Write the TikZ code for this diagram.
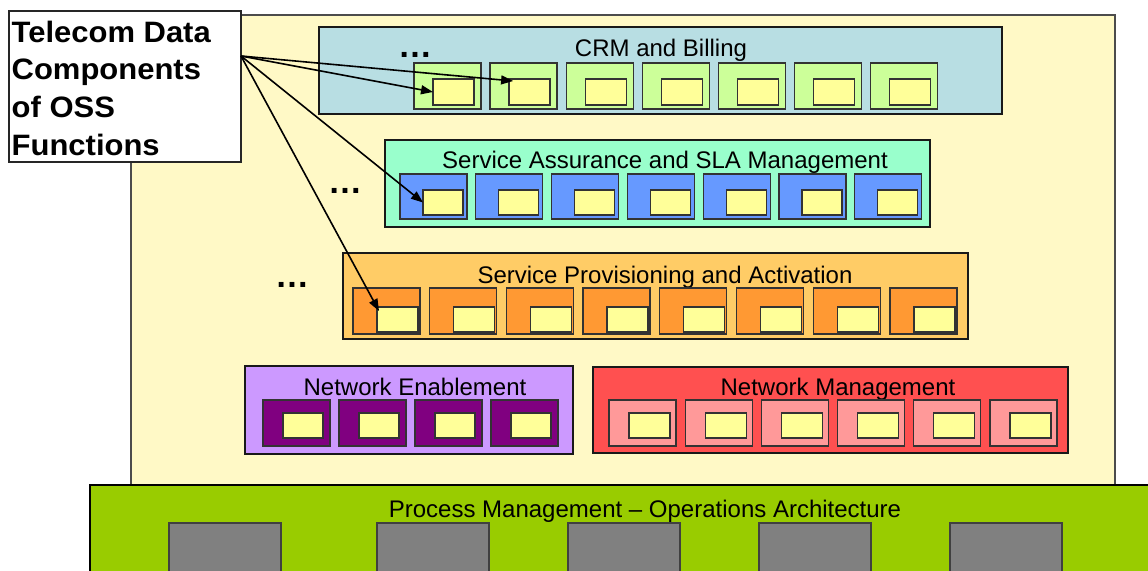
\documentclass[tikz,border=0pt]{standalone}
\usepackage{fontspec}
\setmainfont{Liberation Sans}
\usetikzlibrary{arrows.meta,calc}
\definecolor{bgyel}{HTML}{FFF9C6}
\definecolor{crmfill}{HTML}{B8DEE3}
\definecolor{crmsub}{HTML}{CCFF99}
\definecolor{inyel}{HTML}{FFFF99}
\definecolor{safill}{HTML}{99FFCC}
\definecolor{sasub}{HTML}{6699FF}
\definecolor{spfill}{HTML}{FFCC66}
\definecolor{spsub}{HTML}{FF9933}
\definecolor{nefill}{HTML}{CC99FF}
\definecolor{nesub}{HTML}{800080}
\definecolor{nmfill}{HTML}{FF5050}
\definecolor{nmsub}{HTML}{FF9999}
\definecolor{pmfill}{HTML}{99CC00}
\definecolor{pmsub}{HTML}{808080}
\begin{document}
\begin{tikzpicture}[x=1pt,y=-1pt,
  rbox/.style={draw=black!90, line width=1.5pt, inner sep=0pt, outer sep=0pt, anchor=north west},
  sbox/.style={draw=black!80, line width=1.3pt, inner sep=0pt, outer sep=0pt, anchor=north west, minimum width=67pt, minimum height=46pt},
  ybox/.style={draw=black!80, line width=1.3pt, fill=inyel, inner sep=0pt, outer sep=0pt, anchor=north west, minimum width=41pt, minimum height=26pt},
  ttl/.style={anchor=base, inner sep=0pt, font=\fontsize{24}{28}\selectfont},
  dts/.style={anchor=base west, inner sep=0pt, font=\fontsize{34}{40}\selectfont\bfseries},
  arr/.style={line width=1.6pt, -{Triangle[length=12pt,width=9pt]}}]
\useasboundingbox (0,0) rectangle (1148,570);
\clip (0,0) rectangle (1148,570);
% background
\node[rbox, draw=black!70, fill=bgyel, minimum width=984pt, minimum height=480pt] (bg) at (131,15) {};
% CRM
\node[rbox, fill=crmfill, minimum width=683pt, minimum height=87pt] (crm) at (319,27) {};
\node[ttl] (crmt) at (661,56) {CRM and Billing};
\node[dts] (crmd) at (398,57) {…};
\foreach \i in {0,...,6} {
  \pgfmathsetmacro\lx{414+76.1*\i}
  \node[sbox, fill=crmsub] (crms\i) at (\lx,63) {};
  \node[ybox] (crmy\i) at (\lx+19,79) {};
}
% Service Assurance
\node[rbox, fill=safill, minimum width=545pt, minimum height=87pt] (sa) at (385,140) {};
\node[ttl] (sat) at (665,168) {Service Assurance and SLA Management};
\node[dts] (sad) at (328,193) {…};
\foreach \i in {0,...,6} {
  \pgfmathsetmacro\lx{400+75.8*\i}
  \node[sbox, fill=sasub, minimum height=45pt] (sas\i) at (\lx,174) {};
  \node[ybox, minimum width=40pt, minimum height=25pt] (say\i) at (\lx+23,190) {};
}
% Service Provisioning
\node[rbox, fill=spfill, minimum width=625pt, minimum height=86pt] (sp) at (343,253) {};
\node[ttl] (spt) at (665,283) {Service Provisioning and Activation};
\node[dts] (spd) at (275,287) {…};
\foreach \i in {0,...,7} {
  \pgfmathsetmacro\lx{353+76.7*\i}
  \node[sbox, fill=spsub] (sps\i) at (\lx,288) {};
  \node[ybox, minimum height=25pt] (spy\i) at (\lx+24,307) {};
}
% Network Enablement
\node[rbox, fill=nefill, minimum width=328pt, minimum height=88pt] (ne) at (245,366) {};
\node[ttl] (net) at (415,395) {Network Enablement};
\foreach \i in {0,...,3} {
  \pgfmathsetmacro\lx{263+76*\i}
  \node[sbox, fill=nesub] (nes\i) at (\lx,400) {};
  \node[ybox, minimum width=40pt, minimum height=25pt] (ney\i) at (\lx+20,413) {};
}
% Network Management
\node[rbox, fill=nmfill, minimum width=475pt, minimum height=86pt] (nm) at (593,367) {};
\node[ttl] (nmt) at (838,395) {Network Management};
\foreach \i in {0,...,5} {
  \pgfmathsetmacro\lx{609+76.2*\i}
  \node[sbox, fill=nmsub] (nms\i) at (\lx,400) {};
  \node[ybox, minimum height=25pt] (nmy\i) at (\lx+20,413) {};
}
% Process Management
\node[rbox, draw=black, fill=pmfill, minimum width=1070pt, minimum height=100pt] (pm) at (90,485) {};
\node[ttl] (pmt) at (645,517) {Process Management – Operations Architecture};
\foreach \x [count=\i] in {169,377,568,759,950} {
  \node[sbox, draw=black!75, fill=pmsub, minimum width=112pt, minimum height=60pt] (pms\i) at (\x,523) {};
}
% label
\node[rbox, draw=black!85, line width=1.2pt, fill=white, minimum width=232pt, minimum height=151pt] (lbl) at (9,11) {};
\node[anchor=north west, inner sep=0pt] (lbltxt) at (11.5,15.6) {\scalebox{1.05}[1]{\fontsize{29.5}{37.7}\selectfont\bfseries\begin{tabular}{@{}l@{}}Telecom Data\\Components\\of OSS\\Functions\end{tabular}}};
% arrows
\coordinate (src) at (241,56);
\draw[arr] (src) -- (crmy0.west);
\draw[arr] (src) -- ([shift={(4,2)}]crmy1.north west);
\draw[arr] (src) -- (say0.west);
\draw[arr] (src) -- ([shift={(2,4)}]spy0.north west);
\end{tikzpicture}
\end{document}
